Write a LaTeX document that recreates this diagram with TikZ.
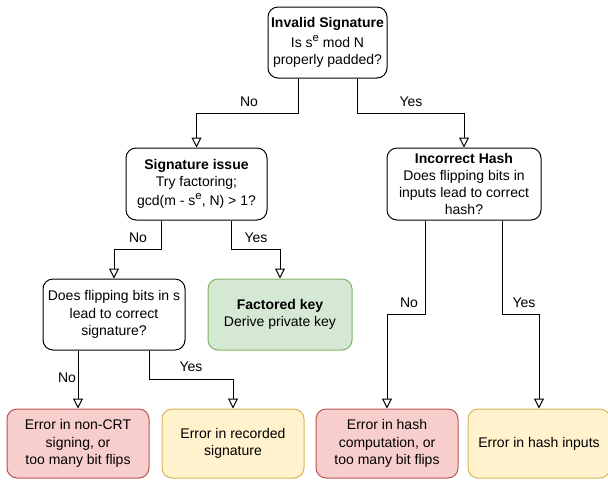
\documentclass[tikz,border=0pt]{standalone}
\usepackage{fontspec}
\setmainfont{Liberation Sans}
\usetikzlibrary{arrows.meta}
\definecolor{redfill}{HTML}{F8CECC}
\definecolor{redline}{HTML}{B85450}
\definecolor{yelfill}{HTML}{FFF2CC}
\definecolor{yelline}{HTML}{D6B656}
\definecolor{grnfill}{HTML}{D5E8D4}
\definecolor{grnline}{HTML}{82B366}
\newcommand{\supe}{\raisebox{0.42em}{\fontsize{8.5pt}{8.5pt}\selectfont e}}
\tikzset{
  box/.style={draw=black, fill=white, rounded corners=7.5pt, line width=0.75pt, align=center,
    inner sep=0pt, font=\fontsize{10.5pt}{12.9pt}\selectfont},
  redbox/.style={box, draw=redline, fill=redfill},
  yelbox/.style={box, draw=yelline, fill=yelfill},
  grnbox/.style={box, draw=grnline, fill=grnfill},
  arr/.style={line width=0.75pt, -{Triangle[fill=white, width=7.5pt, length=7.5pt]}},
  lbl/.style={font=\fontsize{10.5pt}{12.6pt}\selectfont, inner sep=0pt},
}
\begin{document}
\begin{tikzpicture}[x=0.75pt, y=-0.75pt]
\useasboundingbox (0,0) rectangle (608,480);
\node[box, minimum width=89.25pt, minimum height=53.25pt] (top) at (327.5,42.5)
  {\textbf{Invalid Signature}\\[2pt] Is s\supe{} mod N\\ properly padded?};
\node[box, minimum width=105.75pt, minimum height=54pt] (sig) at (196.5,184)
  {\textbf{Signature issue}\\ Try factoring;\\[1pt] gcd(m - s\supe, N) > 1?};
\node[box, minimum width=115.5pt, minimum height=54pt] (hash) at (464,184)
  {\textbf{Incorrect Hash}\\ Does flipping bits in\\ inputs lead to correct\\ hash?};
\node[box, minimum width=106.5pt, minimum height=53.25pt] (flip) at (114,314.5)
  {Does flipping bits in s\\ lead to correct\\ signature?};
\node[grnbox, minimum width=108pt, minimum height=53.25pt] (fact) at (280,314.5)
  {\textbf{Factored key}\\ Derive private key};
\node[redbox, minimum width=106.5pt, minimum height=51.75pt] (e1) at (78,443.5)
  {Error in non-CRT\\ signing, or\\ too many bit flips};
\node[yelbox, minimum width=106.5pt, minimum height=51.75pt] (e2) at (233,443.5)
  {Error in recorded\\ signature};
\node[redbox, minimum width=106.5pt, minimum height=51.75pt] (e3) at (387,443.5)
  {Error in hash\\ computation, or\\ too many bit flips};
\node[yelbox, minimum width=106.5pt, minimum height=51.75pt] (e4) at (539,443.5)
  {Error in hash inputs};

\draw[arr] ([xshift=-22.125pt]top.south) -- ++(0,35) -| (sig.north);
\draw[arr] ([xshift=22.125pt]top.south) -- ++(0,35) -| (hash.north);
\draw[arr] ([xshift=-26.6pt]sig.south) -- ++(0,29) -| (flip.north);
\draw[arr] ([xshift=26.6pt]sig.south) -- ++(0,29) -| (fact.north);
\draw[arr] ([xshift=-28.9pt]hash.south) -- ++(0,94) -| (e3.north);
\draw[arr] ([xshift=28.9pt]hash.south) -- ++(0,94) -| (e4.north);
\draw[arr] ([xshift=-26.6pt]flip.south) -- ++(0,29) -| (e1.north);
\draw[arr] ([xshift=26.6pt]flip.south) -- ++(0,29) -| (e2.north);

\node[lbl] (l1) at (249,102) {No};
\node[lbl] (l2) at (411,102) {Yes};
\node[lbl] (l3) at (138,238) {No};
\node[lbl] (l4) at (256,238) {Yes};
\node[lbl] (l5) at (67,378) {No};
\node[lbl] (l6) at (191,367) {Yes};
\node[lbl] (l7) at (409,303) {No};
\node[lbl] (l8) at (524,303) {Yes};
\end{tikzpicture}
\end{document}
